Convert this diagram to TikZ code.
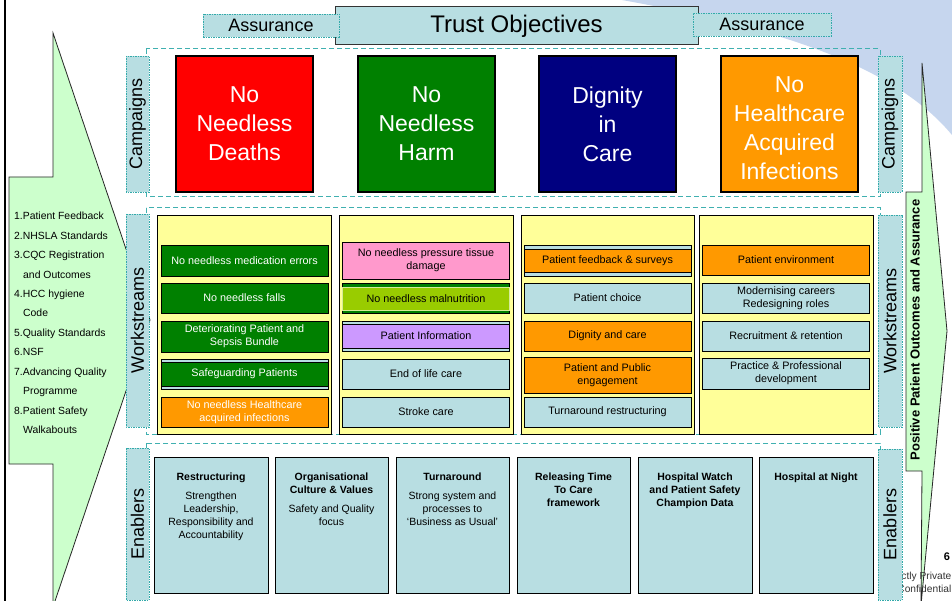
\documentclass[tikz,border=0pt]{standalone}
\usepackage{fontspec}
\setmainfont{Liberation Sans}
\definecolor{tealfill}{RGB}{184,222,226}
\definecolor{framecol}{RGB}{64,176,176}
\definecolor{dotcol}{RGB}{51,170,170}
\definecolor{wsyellow}{RGB}{255,255,153}
\definecolor{arrowgreen}{RGB}{204,255,204}
\definecolor{bgblue}{RGB}{198,214,238}
\definecolor{cred}{RGB}{255,0,0}
\definecolor{cgreen}{RGB}{0,128,0}
\definecolor{cnavy}{RGB}{0,0,128}
\definecolor{corange}{RGB}{255,153,0}
\definecolor{cpink}{RGB}{255,153,204}
\definecolor{clime}{RGB}{153,204,0}
\definecolor{clav}{RGB}{204,153,255}
\begin{document}
\begin{tikzpicture}[x=1pt,y=-1pt,
  lbl/.style={draw=dotcol, fill=tealfill, dash pattern=on 1.5pt off 1pt, line width=0.9pt, inner sep=0pt, font=\fontsize{18}{20}\selectfont},
  sidelbl/.style={lbl, rotate=90},
  frame/.style={draw=framecol, dash pattern=on 5pt off 3pt, line width=1pt},
  camp/.style={draw=black, line width=1.2pt, minimum width=137pt, minimum height=136pt, text=white, align=center, font=\fontsize{23}{29}\selectfont, inner sep=0pt},
  col/.style={draw=black, line width=0.8pt, fill=wsyellow, minimum width=174pt, minimum height=219pt, inner sep=0pt},
  item/.style={draw=black, line width=0.8pt, minimum width=167pt, minimum height=30pt, align=center, font=\fontsize{10.8}{13}\selectfont, inner sep=0pt},
  tealitem/.style={item, fill=tealfill},
  enb/.style={draw=black, line width=0.8pt, fill=tealfill, minimum width=114pt, minimum height=136pt, inner sep=0pt},
  entext/.style={anchor=north, align=center, font=\fontsize{10.5}{13}\selectfont, inner sep=0pt},
  bigarrow/.style={draw=black!85, line width=0.8pt, fill=arrowgreen},
  foot/.style={anchor=base east, font=\fontsize{10.2}{11}\selectfont, text=black!80, inner sep=0pt}
]
\useasboundingbox (0,0) rectangle (952,601);
\fill[white] (0,0) rectangle (952,601);
% background
\fill[bgblue] (622,0) .. controls (760,25) and (890,60) .. (952,135) -- (952,0) -- cycle;
\draw[line width=2pt] (5,0) -- (5,601);
% arrows
\draw[bigarrow] (9,177) -- (53,177) -- (53,33) -- (150,320) -- (53,607) -- (53,464) -- (9,464) -- cycle;
\draw[bigarrow] (906,192) -- (922,192) -- (922,63) -- (947,331) -- (921,605) -- (922,471) -- (906,471) -- cycle;
\node[rotate=90, font=\bfseries\fontsize{13}{14}\selectfont, inner sep=0pt] (pos) at (915,330) {Positive Patient Outcomes and Assurance};
\node[anchor=north west, align=left, font=\fontsize{10.4}{19.45}\selectfont, inner sep=0pt] (list) at (14,212)
 {1.Patient Feedback\\2.NHSLA Standards\\3.CQC Registration\\\hspace*{9pt}and Outcomes\\4.HCC hygiene\\\hspace*{9pt}Code\\5.Quality Standards\\6.NSF\\7.Advancing Quality\\\hspace*{9pt}Programme\\8.Patient Safety\\\hspace*{9pt}Walkabouts};
% top
\node[draw=black!80, line width=1pt, fill=tealfill, minimum width=363pt, minimum height=38pt, inner sep=0pt, font=\fontsize{24}{26}\selectfont] (trust) at (516.5,26) {Trust Objectives};
\node[lbl, minimum width=136pt, minimum height=23pt] (asl) at (271,25.5) {Assurance};
\node[lbl, minimum width=138pt, minimum height=23pt] (asr) at (762,24.5) {Assurance};
% frames
\draw[frame] (146,49) rectangle (880,197);
\draw[frame] (146,208) rectangle (880,434);
\draw[frame] (146,443) rectangle (880,612);
% footer text
\node[foot] (sp1) at (951.5,579) {Strictly Private};
\node[foot] (sp2) at (951.5,592) {and Confidential};
\node[font=\bfseries\fontsize{11}{12}\selectfont, inner sep=0pt] (pg) at (947,557) {6};
% side labels
\node[sidelbl, minimum width=136pt, minimum height=23pt] (lc) at (137.5,124) {Campaigns};
\node[sidelbl, minimum width=136pt, minimum height=24pt] (rc) at (890,124) {Campaigns};
\node[sidelbl, minimum width=213pt, minimum height=23pt] (lw) at (137.5,320.5) {Workstreams};
\node[sidelbl, minimum width=212pt, minimum height=24pt] (rw) at (890,321) {Workstreams};
\node[sidelbl, minimum width=152pt, minimum height=23pt] (le) at (137.5,524) {Enablers};
\node[sidelbl, minimum width=151pt, minimum height=24pt] (re) at (890,524.5) {Enablers};
% campaigns
\node[camp, fill=cred] (c1) at (244.5,124) {No\\Needless\\Deaths};
\node[camp, fill=cgreen] (c2) at (426.5,124) {No\\Needless\\Harm};
\node[camp, fill=cnavy] (c3) at (607.5,124) {Dignity\\in\\Care};
\node[camp, fill=corange] (c4) at (789.5,124) {};
\node[align=center, text=white, font=\fontsize{23}{29}\selectfont, inner sep=0pt] (c4t) at (789.5,128) {No\\Healthcare\\Acquired\\Infections};
% workstream columns
\node[col] (k1) at (244.5,324.5) {};
\node[col] (k2) at (426,324.5) {};
\node[col, minimum width=173pt] (k3) at (607.5,324.5) {};
\node[col] (k4) at (786,324.5) {};
% column 1
\node[item, fill=cgreen, text=white, minimum height=31pt] (w11) at (244.5,260.5) {No needless medication errors};
\node[item, fill=cgreen, text=white] (w12) at (244.5,298) {No needless falls};
\node[item, fill=cgreen, text=white, minimum height=31pt] (w13) at (244.5,336.5) {Deteriorating Patient and\\Sepsis Bundle};
\node[tealitem] (w14o) at (244.5,374) {};
\node[item, fill=cgreen, text=white, minimum height=24pt] (w14) at (244.5,374) {Safeguarding Patients};
\node[item, fill=corange, text=white] (w15) at (244.5,412) {No needless Healthcare\\acquired infections};
% column 2
\node[item, fill=cpink, minimum height=37pt] (w21) at (426,260.5) {No needless pressure tissue\\damage};
\node[item, fill=cgreen] (w22o) at (426,298) {};
\node[item, fill=clime, draw=white!60!clime, minimum height=23pt] (w22) at (426,298.5) {No needless malnutrition};
\node[tealitem] (w23o) at (426,336) {};
\node[item, fill=clav, minimum height=24pt] (w23) at (426,336) {Patient Information};
\node[tealitem] (w24) at (426,374) {End of life care};
\node[tealitem] (w25) at (426,412) {Stroke care};
% column 3
\node[tealitem, minimum height=31pt] (w31o) at (607.5,260.5) {};
\node[item, fill=corange, minimum height=23pt] (w31) at (607.5,260.5) {Patient feedback \& surveys};
\node[tealitem] (w32) at (607.5,298) {Patient choice};
\node[item, fill=corange] (w33) at (607.5,336) {Dignity and care};
\node[item, fill=corange, minimum height=36pt] (w34) at (607.5,375) {Patient and Public\\engagement};
\node[tealitem] (w35) at (607.5,412) {Turnaround restructuring};
% column 4
\node[item, fill=corange] (w41) at (786,260) {Patient environment};
\node[tealitem] (w42) at (786,298) {Modernising careers\\Redesigning roles};
\node[tealitem] (w43) at (786,336) {Recruitment \& retention};
\node[tealitem, minimum height=31pt] (w44) at (786,373.5) {Practice \& Professional\\development};
% enablers
\node[enb] (e1) at (211,525) {};
\node[enb, minimum width=113pt] (e2) at (331.5,525) {};
\node[enb, minimum width=113pt] (e3) at (452.5,525) {};
\node[enb, minimum width=113pt] (e4) at (573.5,525) {};
\node[enb] (e5) at (695,525) {};
\node[enb] (e6) at (816,525) {};
\node[entext] (e1t) at (211,472.5) {\textbf{Restructuring}\\[6pt]Strengthen\\Leadership,\\Responsibility and\\Accountability};
\node[entext] (e2t) at (331.5,472.5) {\textbf{Organisational}\\\textbf{Culture \& Values}\\[6pt]Safety and Quality\\focus};
\node[entext] (e3t) at (452.5,472.5) {\textbf{Turnaround}\\[6pt]Strong system and\\processes to\\‘Business as Usual’};
\node[entext] (e4t) at (573.5,472.5) {\textbf{Releasing Time}\\\textbf{To Care}\\\textbf{framework}};
\node[entext] (e5t) at (695,472.5) {\textbf{Hospital Watch}\\\textbf{and Patient Safety}\\\textbf{Champion Data}};
\node[entext] (e6t) at (816,472.5) {\textbf{Hospital at Night}};
\end{tikzpicture}
\end{document}
